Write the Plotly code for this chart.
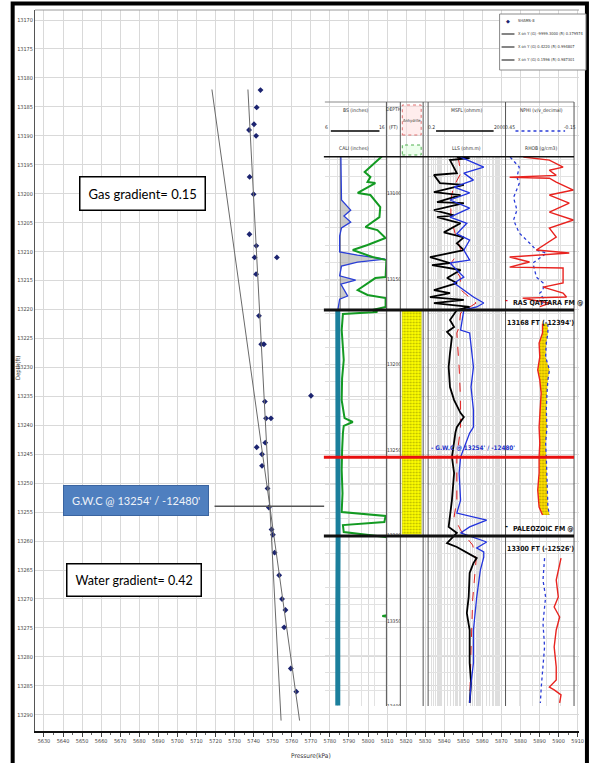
import math
import plotly.graph_objects as go

# ---------------- page geometry ----------------
W, H = 594, 763
ML, MR, MT, MB = 35, 11, 10, 32
PW = W - ML - MR
PH = H - MT - MB


def px(x):
    return (x - ML) / PW


def py(y):
    return (H - MB - y) / PH


# ---------------- pressure test data (SHAMS-8) ----------------
test_pressure_kpa = [5743.6, 5741.6, 5740.2, 5737.6, 5741.3, 5737.9, 5740.0, 5737.8, 5741.4,
                     5740.5, 5752.2, 5741.3, 5742.8, 5744.0, 5745.4, 5770.1, 5745.9, 5746.5,
                     5749.1, 5741.6, 5746.1, 5744.4, 5744.4, 5747.3, 5748.0, 5749.4, 5750.1,
                     5751.0, 5753.4, 5754.9, 5756.7, 5756.0, 5759.5, 5762.4]
test_depth_ft = [13182.1, 13185.1, 13188.0, 13189.0, 13190.0, 13197.1, 13200.1, 13207.0, 13209.0,
                 13211.0, 13211.0, 13213.9, 13221.1, 13226.0, 13226.0, 13234.9, 13235.9, 13238.8,
                 13238.8, 13243.8, 13243.0, 13245.0, 13247.0, 13250.9, 13254.2, 13258.0, 13258.9,
                 13262.0, 13265.9, 13270.0, 13271.9, 13274.9, 13282.0, 13286.0]

# fitted gradient lines (kPa per ft on this plot) through the contact
gwc_depth = 13254
gwc_tvdss = -12480
gwc_pressure = 5748.5
gas_gradient = 0.1596
water_gradient = 0.4220
gas_r = 0.987301
water_r = 0.994807
line_depths = [13182.0, 13291.0]

# axis ticks
x_ticks = list(range(5630, 5911, 10))
y_ticks = list(range(13170, 13291, 5))

# ---------------- well log data ----------------
formation_tops = [("RAS QATTARA FM", 13168, -12394), ("PALEOZOIC FM", 13300, -12526)]
log_top, log_base = 13078.0, 13399.3
depth_labels = [13100, 13150, 13200, 13250, 13300, 13350, 13400]
bit_size_in = 8.5

cali_depth = [13078, 13092, 13103.7, 13109.6, 13113, 13116.6, 13120, 13124.8, 13134, 13135.9,
              13138.2, 13140, 13142.3, 13148, 13150.5, 13152.8, 13159.8, 13161.6, 13168,
              13200, 13250, 13300, 13350, 13399]
cali_in = [8.6, 8.6, 8.7, 10.2, 9.1, 10.2, 8.7, 8.4, 8.4, 11.3,
           15.8, 11.3, 8.7, 8.4, 11.0, 8.6, 9.7, 8.4, 8.1,
           8.15, 8.1, 8.15, 8.1, 8.1]

gr_depth = [13078.0, 13084.5, 13087.4, 13090.3, 13093.2, 13093.8, 13099.6, 13100.8, 13107.8,
            13113.7, 13119.5, 13121.3, 13125.9, 13130.0, 13132.9, 13137.0, 13138.8, 13148.7,
            13149.3, 13156.3, 13159.2, 13161.0, 13166.2, 13168.0, 13169.2, 13170.3, 13179.7,
            13190.0, 13197.2, 13208.0, 13220.6, 13231.1, 13233.4, 13235.7, 13239.8, 13250.0,
            13261.4, 13275.0, 13286.0, 13288.3, 13291.8, 13293.6, 13297.7, 13300.6, 13302.3,
            13345.5, 13346.7, 13348.5, 13399.0]
gr_api = [140, 111, 97, 111, 104, 123, 80, 111, 135,
          133, 99, 128, 148, 104, 68, 116, 150, 148,
          123, 80, 104, 148, 148, 116, 128, 44, 41,
          44, 46, 42, 41, 48, 68, 46, 44, 42,
          41, 43, 41, 148, 145, 44, 46, 148, 180,
          180, 140, 180, 180]

msfl_depth = [13078.6, 13079.2, 13080.4, 13088.0, 13089.1, 13093.8, 13094.9, 13099.1, 13100.8,
              13104.9, 13105.5, 13109.6, 13112.7, 13113.7, 13117.3, 13122.6, 13125.5, 13129.0,
              13133.0, 13137.1, 13140.5, 13141.7, 13144.6, 13149.3, 13152.2, 13156.3, 13158.1,
              13160.4, 13162.1, 13163.9, 13166.2, 13168.0, 13173.8, 13177.9, 13180.8, 13183.8,
              13193.1, 13201.3, 13213.0, 13220.6, 13228.2, 13230.5, 13236.4, 13239.3, 13253.9,
              13263.2, 13279.0, 13286.6, 13294.7, 13298.2, 13304.1, 13306.4, 13312.9, 13315.8,
              13321.6, 13335.6, 13345.0, 13354.9, 13374.2, 13385.9, 13397.5]
msfl_ohmm = [6.1, 28, 2.7, 6.1, 0.4, 0.82, 14, 0.4, 9.5,
             0.58, 14, 0.4, 4.4, 0.58, 9.5, 1.3, 14, 6.1,
             14, 0.25, 2.7, 0.32, 9.5, 1.9, 6.1, 0.4, 2.7,
             0.25, 14, 0.4, 28, 6.1, 2.7, 4.4, 1.9, 3.4,
             2.7, 2.3, 2.7, 4.4, 9.5, 14, 6.1, 5.2, 3.4,
             4.4, 3.4, 2.7, 2.3, 6.1, 1.9, 6.1, 65, 44,
             28, 25, 20, 28, 28, 33, 28]

lld_depth = [13078.6, 13084.5, 13088.0, 13092.1, 13096.2, 13099.6, 13103.7, 13108.4, 13113.7,
             13117.3, 13123.4, 13127.1, 13133.0, 13138.8, 13140.5, 13144.6, 13148.7, 13152.2,
             13156.3, 13160.4, 13163.9, 13166.2, 13168.0, 13173.8, 13179.7, 13181.4, 13189.6,
             13201.3, 13213.0, 13226.4, 13236.4, 13239.9, 13253.9, 13263.2, 13279.0, 13286.6,
             13290.7, 13294.7, 13298.2, 13303.5, 13307.0, 13309.3, 13312.3, 13319.9, 13335.6,
             13354.9, 13374.2, 13385.9, 13397.5]
lld_ohmm = [9.5, 150, 14, 44, 4.4, 28, 2.7, 28, 2.7,
            20, 6.1, 28, 14, 28, 2.7, 6.1, 14, 4.4,
            14, 44, 150, 65, 14, 12, 9.5, 28, 33,
            44, 33, 44, 44, 28, 9.5, 8, 9.5, 6.1,
            212, 28, 9.5, 212, 65, 150, 150, 100, 65,
            44, 44, 33, 28]

lls_depth = [13078.6, 13088.0, 13096.2, 13103.7, 13113.7, 13123.4, 13133.0, 13140.5, 13148.7,
             13156.3, 13163.9, 13169.7, 13177.9, 13181.4, 13201.3, 13220.6, 13236.4, 13253.9,
             13279.0, 13288.9, 13296.5, 13305.3, 13314.0, 13337.4, 13366.6, 13397.5]
lls_ohmm = [7, 10, 4, 3, 3, 5, 10, 3, 9,
            10, 60, 9.5, 8, 6.1, 8, 9.5, 9.5, 6.1,
            6.1, 4.4, 9.5, 40, 60, 40, 33, 28]

nphi_depth = [13078.6, 13084.5, 13090.4, 13094.0, 13102.3, 13109.6, 13115.4, 13123.0, 13128.8,
              13133.0, 13134.7, 13140.5, 13148.7, 13152.2, 13156.3, 13158.1, 13162.0, 13166.0,
              None,
              13176.0, 13181.4, 13187.3, 13195.4, 13203.0, 13208.9, 13216.5, 13226.4, 13236.4,
              13245.8, 13254.0, 13263.2, 13273.1, 13283.1, 13287.7,
              None,
              13312.9, 13325.7, 13335.6, 13350.8, 13364.8, 13378.2, 13388.2, 13397.5]
nphi_vv = [0.41, 0.33, 0.35, 0.33, 0.38, 0.35, 0.38, 0.33, 0.24,
           0.18, 0.09, 0.21, 0.18, 0.12, 0.12, 0.15, 0.11, 0.14,
           None,
           0.079, 0.079, 0.093, 0.099, 0.065, 0.079, 0.087, 0.093, 0.087,
           0.099, 0.093, 0.087, 0.079, 0.079, 0.065,
           None,
           0.108, 0.122, 0.099, 0.122, 0.108, 0.128, 0.137, 0.145]

rhob_depth = [13078.6, 13080.4, 13084.5, 13086.3, 13089.3, 13090.4, 13091.0, 13093.2, 13097.9,
              13100.8, 13105.5, 13110.8, 13115.4, 13120.1, 13125.3, 13132.9, 13134.7, 13137.0,
              13139.9, 13142.9, 13143.4, 13152.2, 13154.6, 13158.1, 13160.4, 13161.0, 13164.0,
              13166.0,
              None,
              13176.0, 13181.4, 13187.3, 13195.4, 13203.0, 13208.9, 13216.5, 13226.4, 13236.4,
              13245.8, 13254.0, 13263.2, 13273.1, 13283.1, 13287.7,
              None,
              13312.9, 13325.7, 13335.6, 13341.5, 13347.3, 13354.9, 13364.8, 13376.5, 13384.1,
              13388.2, 13389.9, 13392.8, 13397.5]
rhob_gcc = [2.21, 2.59, 2.79, 2.59, 2.69, 2.01, 2.59, 2.69, 2.94,
            2.59, 2.88, 2.59, 2.94, 2.59, 2.69, 2.40, 2.88, 2.01,
            2.30, 2.01, 2.79, 2.79, 2.50, 2.79, 2.84, 2.20, 2.60,
            2.45,
            None,
            2.49, 2.49, 2.44, 2.45, 2.42, 2.45, 2.47, 2.45, 2.44,
            2.45, 2.44, 2.44, 2.42, 2.44, 2.49,
            None,
            2.76, 2.69, 2.72, 2.66, 2.74, 2.69, 2.66, 2.69, 2.69,
            2.59, 2.66, 2.76, 2.74]

# track scales (header values)
cali_scale = (6, 16)
gr_scale = (0, 150)
res_scale = (0.2, 2000)
nphi_scale = (0.45, -0.15)
rhob_scale = (1.95, 2.95)

# ---------------- styles ----------------
NARROW = "Liberation Sans Narrow, DejaVu Sans Condensed, Arial Narrow, sans-serif"
BOXFONT = "Lato, Carlito, Calibri, sans-serif"
GRID = "#d9d9d9"
LOGGRID = "#e2e2e2"
POINT_COLOR = "#1c2470"
FIT_COLOR = "#6a6a6a"

fig = go.Figure()

# ---------------- pressure vs depth chart ----------------
series_names = ["SHAMS-8",
                "X on Y (G) -9999.3000 (R) 0.379574",
                f"X on Y (G) {water_gradient:.4f} (R) {water_r:.6f}",
                f"X on Y (G) {gas_gradient:.4f} (R) {gas_r:.6f}"]

fig.add_trace(go.Scatter(
    x=test_pressure_kpa, y=test_depth_ft, mode="markers", name=series_names[0],
    marker=dict(symbol="diamond", size=4.5, color=POINT_COLOR),
    xaxis="x", yaxis="y"))

water_p = [gwc_pressure + water_gradient * (d - gwc_depth) for d in line_depths]
gas_p = [gwc_pressure + gas_gradient * (d - gwc_depth) for d in line_depths]
fig.add_trace(go.Scatter(
    x=water_p, y=line_depths, mode="lines", name=series_names[2],
    line=dict(color=FIT_COLOR, width=1), xaxis="x", yaxis="y"))
fig.add_trace(go.Scatter(
    x=gas_p, y=line_depths, mode="lines", name=series_names[3],
    line=dict(color=FIT_COLOR, width=1), xaxis="x", yaxis="y"))

# ---------------- well log panel ----------------
res_lo, res_hi = math.log10(res_scale[0]), math.log10(res_scale[1])
top_depth = formation_tops[0][1]
base_depth = formation_tops[1][1]

# track 1: bit size, caliper and gamma ray
upper_cali = [(d, c) for d, c in zip(cali_depth, cali_in) if d <= top_depth]
lower_cali = [(d, c) for d, c in zip(cali_depth, cali_in) if d >= top_depth]
fig.add_trace(go.Scatter(x=[bit_size_in, bit_size_in], y=[log_top, top_depth], mode="lines",
                         line=dict(color="#7a7a7a", width=1),
                         xaxis="x2", yaxis="y2"))
fig.add_trace(go.Scatter(x=[c for d, c in upper_cali], y=[d for d, c in upper_cali],
                         mode="lines", fill="tonextx", fillcolor="rgba(170,170,170,0.6)",
                         line=dict(color="#2b3fd6", width=1.3),
                         xaxis="x2", yaxis="y2"))
fig.add_trace(go.Scatter(x=[c for d, c in lower_cali], y=[d for d, c in lower_cali],
                         mode="lines", line=dict(color="#1b7f9c", width=5),
                         xaxis="x2", yaxis="y2"))
fig.add_trace(go.Scatter(x=gr_api, y=gr_depth, mode="lines",
                         line=dict(color="#139a22", width=2),
                         xaxis="x3", yaxis="y2"))

# track 2: depth labels
fig.add_trace(go.Scatter(x=[0.55] * len(depth_labels), y=depth_labels, mode="text",
                         text=[str(d) for d in depth_labels],
                         textfont=dict(size=5, color="#333333", family=NARROW),
                         xaxis="x4", yaxis="y3"))

# track 3: lithology (sandstone between the two formation tops)
fig.add_trace(go.Scatter(x=[0.08, 0.92, 0.92, 0.08, 0.08],
                         y=[top_depth, top_depth, base_depth - 1, base_depth - 1, top_depth],
                         mode="lines", fill="toself", line=dict(color="#b5b500", width=0.5),
                         fillcolor="#ffff00",
                         fillpattern=dict(shape=".", fgcolor="#6f6f00", bgcolor="#ffff00",
                                          size=3, solidity=0.35),
                         xaxis="x5", yaxis="y3"))

# track 4: resistivity
fig.add_trace(go.Scatter(x=lls_ohmm, y=lls_depth, mode="lines",
                         line=dict(color="#e02020", width=1, dash="dash"),
                         xaxis="x6", yaxis="y2"))
fig.add_trace(go.Scatter(x=msfl_ohmm, y=msfl_depth, mode="lines",
                         line=dict(color="#000000", width=1.8),
                         xaxis="x6", yaxis="y2"))
fig.add_trace(go.Scatter(x=lld_ohmm, y=lld_depth, mode="lines",
                         line=dict(color="#2233dd", width=1.3),
                         xaxis="x6", yaxis="y2"))


# track 5: neutron / density with gas crossover shading
def rhob_in_nphi_units(r):
    f = (r - rhob_scale[0]) / (rhob_scale[1] - rhob_scale[0])
    return nphi_scale[0] + f * (nphi_scale[1] - nphi_scale[0])


rhob_by_depth = {d: r for d, r in zip(rhob_depth, rhob_gcc) if d is not None}
res_pairs = [(d, n, rhob_by_depth[d]) for d, n in zip(nphi_depth, nphi_vv)
             if d is not None and top_depth < d < base_depth and d in rhob_by_depth]
fill_x = [n for d, n, r in res_pairs] + [rhob_in_nphi_units(r) for d, n, r in reversed(res_pairs)]
fill_y = [d for d, n, r in res_pairs] + [d for d, n, r in reversed(res_pairs)]
fig.add_trace(go.Scatter(x=fill_x, y=fill_y, mode="lines", fill="toself",
                         line=dict(width=0), fillcolor="#ffd200",
                         fillpattern=dict(shape=".", fgcolor="#7a6a00", bgcolor="#ffdf00",
                                          size=3, solidity=0.35),
                         xaxis="x7", yaxis="y2"))
fig.add_trace(go.Scatter(x=nphi_vv, y=nphi_depth, mode="lines",
                         line=dict(color="#2a3cd8", width=1.3, dash="dot"),
                         xaxis="x7", yaxis="y2"))
fig.add_trace(go.Scatter(x=rhob_gcc, y=rhob_depth, mode="lines",
                         line=dict(color="#e8231f", width=1.4),
                         xaxis="x8", yaxis="y2"))

# ---------------- axes ----------------
ax_font = dict(size=5.5, color="#444444", family=NARROW)
log_dom = [py(706), py(156)]
log_range = [log_base, log_top]


def track_x(dom, rng, **kw):
    d = dict(domain=dom, range=rng, anchor=kw.pop("anchor", "y2"), showticklabels=False,
             ticks="", zeroline=False, showline=False, showgrid=False)
    d.update(kw)
    return d


fig.update_layout(
    width=W, height=H,
    margin=dict(l=ML, r=MR, t=MT, b=MB),
    paper_bgcolor="white", plot_bgcolor="rgba(0,0,0,0)",
    showlegend=False,
    xaxis=dict(domain=[0, 1], range=[5625.3, 5910.7], tickvals=x_ticks,
               ticktext=[str(v) for v in x_ticks], tickfont=ax_font, tickangle=0,
               showgrid=True, gridcolor=GRID, gridwidth=1, zeroline=False,
               showline=True, linecolor="#111111", linewidth=1.5,
               ticks="outside", ticklen=4, tickcolor="#444444",
               minor=dict(ticks="outside", ticklen=2, tickcolor="#666666", dtick=5,
                          tick0=5625, showgrid=False),
               anchor="y"),
    yaxis=dict(domain=[0, 1], range=[13292.8, 13168.27], tickvals=y_ticks,
               ticktext=[str(v) for v in y_ticks], tickfont=ax_font,
               showgrid=True, gridcolor=GRID, gridwidth=1, zeroline=False,
               showline=True, linecolor="#555555", linewidth=1, ticks="", anchor="x"),
    # track 1
    xaxis2=track_x([px(327), px(389)], list(cali_scale), showgrid=True, gridcolor=LOGGRID,
                   dtick=2, tick0=6),
    xaxis3=track_x([px(327), px(389)], list(gr_scale), overlaying="x2"),
    yaxis2=dict(domain=log_dom, range=log_range, anchor="x2", showticklabels=False, ticks="",
                zeroline=False, showline=False, showgrid=True, gridcolor=LOGGRID,
                dtick=10, tick0=13080),
    # track 2 and 3
    xaxis4=track_x([px(389), px(403)], [0, 1], anchor="y3"),
    xaxis5=track_x([px(403), px(426)], [0, 1], anchor="y3"),
    yaxis3=dict(domain=log_dom, range=log_range, anchor="x4", showticklabels=False, ticks="",
                zeroline=False, showline=False, showgrid=False),
    # track 4
    xaxis6=track_x([px(431), px(509)], [res_lo, res_hi], type="log", showgrid=True,
                   gridcolor="#dedede", dtick="D1"),
    # track 5
    xaxis7=track_x([px(509), px(578)], list(nphi_scale), showgrid=True, gridcolor=LOGGRID,
                   dtick=0.12, tick0=0.45),
    xaxis8=track_x([px(509), px(578)], list(rhob_scale), overlaying="x7"),
)

# ---------------- shapes ----------------
shapes = []
# outer frame and plot top border
shapes.append(dict(type="rect", xref="paper", yref="paper", x0=px(12.5), x1=px(591),
                   y0=py(770), y1=py(3.5), line=dict(color="black", width=4)))
shapes.append(dict(type="line", xref="paper", yref="paper", x0=0, x1=1, y0=1, y1=1,
                   line=dict(color="#9a9a9a", width=1)))
# contact line from the label to the log
shapes.append(dict(type="line", xref="x", yref="y", x0=5719.5, x1=5777.0,
                   y0=gwc_depth, y1=gwc_depth, line=dict(color="#555555", width=1.5)))
# log panel header and track borders
shapes.append(dict(type="line", xref="paper", yref="paper", x0=px(327), x1=px(578),
                   y0=py(102), y1=py(102), line=dict(color="#8a8a8a", width=1)))
for xb in [389, 403, 426, 431, 509, 578]:
    shapes.append(dict(type="line", xref="paper", yref="paper", x0=px(xb), x1=px(xb),
                       y0=py(706), y1=py(102), line=dict(color="#555555", width=1)))
shapes.append(dict(type="line", xref="paper", yref="y2", x0=px(326), x1=px(578),
                   y0=log_top, y1=log_top, line=dict(color="#111111", width=3)))
for name, md, tvd in formation_tops:
    shapes.append(dict(type="line", xref="paper", yref="y2", x0=px(326), x1=px(578),
                       y0=md, y1=md, line=dict(color="#111111", width=3)))
shapes.append(dict(type="line", xref="paper", yref="y2", x0=px(326), x1=px(578),
                   y0=gwc_depth, y1=gwc_depth, line=dict(color="#e81010", width=3)))
# header scale bars
shapes.append(dict(type="line", xref="paper", yref="paper", x0=px(333), x1=px(382),
                   y0=py(131), y1=py(131), line=dict(color="black", width=1.5)))
shapes.append(dict(type="line", xref="paper", yref="paper", x0=px(439), x1=px(497),
                   y0=py(131), y1=py(131), line=dict(color="black", width=1.5)))
shapes.append(dict(type="line", xref="paper", yref="paper", x0=px(519), x1=px(569),
                   y0=py(131), y1=py(131), line=dict(color="#2a3cd8", width=1.5, dash="dot")))
# lithology legend swatches
shapes.append(dict(type="rect", xref="paper", yref="paper", x0=px(405), x1=px(424),
                   y0=py(135), y1=py(105), line=dict(color="#e07070", width=1, dash="dot"),
                   fillcolor="rgba(255,220,220,0.5)"))
shapes.append(dict(type="rect", xref="paper", yref="paper", x0=px(405), x1=px(424),
                   y0=py(155), y1=py(145), line=dict(color="#50b050", width=1, dash="dot"),
                   fillcolor="rgba(220,255,220,0.5)"))

# chart key (top right)
key_rows = [21, 34, 47, 60]
shapes.append(dict(type="rect", xref="paper", yref="paper", x0=px(503), x1=px(590),
                   y0=py(70), y1=py(14), line=dict(color="#8a8a8a", width=1),
                   fillcolor="white"))
for row_y in key_rows[1:]:
    shapes.append(dict(type="line", xref="paper", yref="paper", x0=px(505), x1=px(518),
                       y0=py(row_y), y1=py(row_y), line=dict(color="#333333", width=1.2)))
fig.update_layout(shapes=shapes)

# ---------------- annotations ----------------
ann = []


def txt(x, y, s, size=5, color="#333333", family=NARROW, **kw):
    d = dict(xref="paper", yref="paper", x=px(x), y=py(y), text=s, showarrow=False,
             font=dict(size=size, color=color, family=family), xanchor="center",
             yanchor="middle")
    d.update(kw)
    ann.append(d)


def two_dp(g):
    return f"{math.floor(g * 100) / 100:.2f}"


# key entries
txt(511.5, key_rows[0], "◆", size=5, color=POINT_COLOR, family="DejaVu Sans")
for row_y, name in zip(key_rows, series_names):
    txt(520, row_y, name, size=4, color="#333333", xanchor="left")

# axis titles
txt(18, 368, "Depth(ft)", size=6, textangle=-90)
txt(313, 756, "Pressure(kPa)", size=6.5)

# gradient boxes
txt(143, 193, f"Gas gradient= {two_dp(gas_gradient)}", size=13, color="black", family=BOXFONT,
    bgcolor="white", bordercolor="black", borderwidth=1.5, borderpad=8)
txt(135, 580, f"Water gradient= {two_dp(water_gradient)}", size=12.5, color="black",
    family=BOXFONT, bgcolor="white", bordercolor="black", borderwidth=1.5, borderpad=8)
txt(136.5, 500.5, f"G.W.C @ {gwc_depth}' / {gwc_tvdss}'", size=11, color="#eef2f8",
    family=BOXFONT, bgcolor="#4f7fbf", bordercolor="#3a64a0", borderwidth=1, borderpad=8)

# log headers
txt(358, 110, "BS (inches)")
txt(329, 127, "6")
txt(385, 127, "16")
txt(356, 148, "CALI (inches)")
txt(396, 109, "DEPTH")
txt(396, 127, "(FT)")
txt(414.5, 120, "Anhydrite", size=4)
txt(470, 110, "MSFL (ohmm)")
txt(434, 127, "0.2")
txt(503, 127, "2000")
txt(470, 148, "LLS (ohm.m)")
txt(545, 110, "NPHI (v/v_decimal)")
txt(513, 127, f"{nphi_scale[0]:.2f}")
txt(574, 127, f"{nphi_scale[1]:.2f}")
txt(545, 148, "RHOB (g/cm3)")

# formation tops and contact
for (name, md, tvd), color in zip(formation_tops, ["#e81010", "#111111"]):
    ann.append(dict(xref="paper", yref="y2", x=px(514), y=md, text=f"<b>{name} @</b>",
                    showarrow=False, xanchor="left", yanchor="bottom", yshift=1,
                    font=dict(size=7, color="#111111", family=NARROW)))
    ann.append(dict(xref="paper", yref="y2", x=px(510), y=md, text="<b>-</b>",
                    showarrow=False, xanchor="center", yanchor="bottom", yshift=3,
                    font=dict(size=8, color=color, family=NARROW)))
    ann.append(dict(xref="paper", yref="y2", x=px(544), y=md, text=f"<b>{md} FT ({tvd}')</b>",
                    showarrow=False, xanchor="center", yanchor="top", yshift=-7,
                    font=dict(size=7, color="#111111", family=NARROW)))
ann.append(dict(xref="paper", yref="y2", x=px(432), y=gwc_depth,
                text=f"<b>- G.W.C @ {gwc_depth}' / {gwc_tvdss}'</b>", showarrow=False,
                xanchor="left", yanchor="bottom", yshift=3,
                font=dict(size=6.3, color="#2233cc", family=NARROW)))

fig.update_layout(annotations=ann)

fig.write_html("out.html", include_plotlyjs=True)
